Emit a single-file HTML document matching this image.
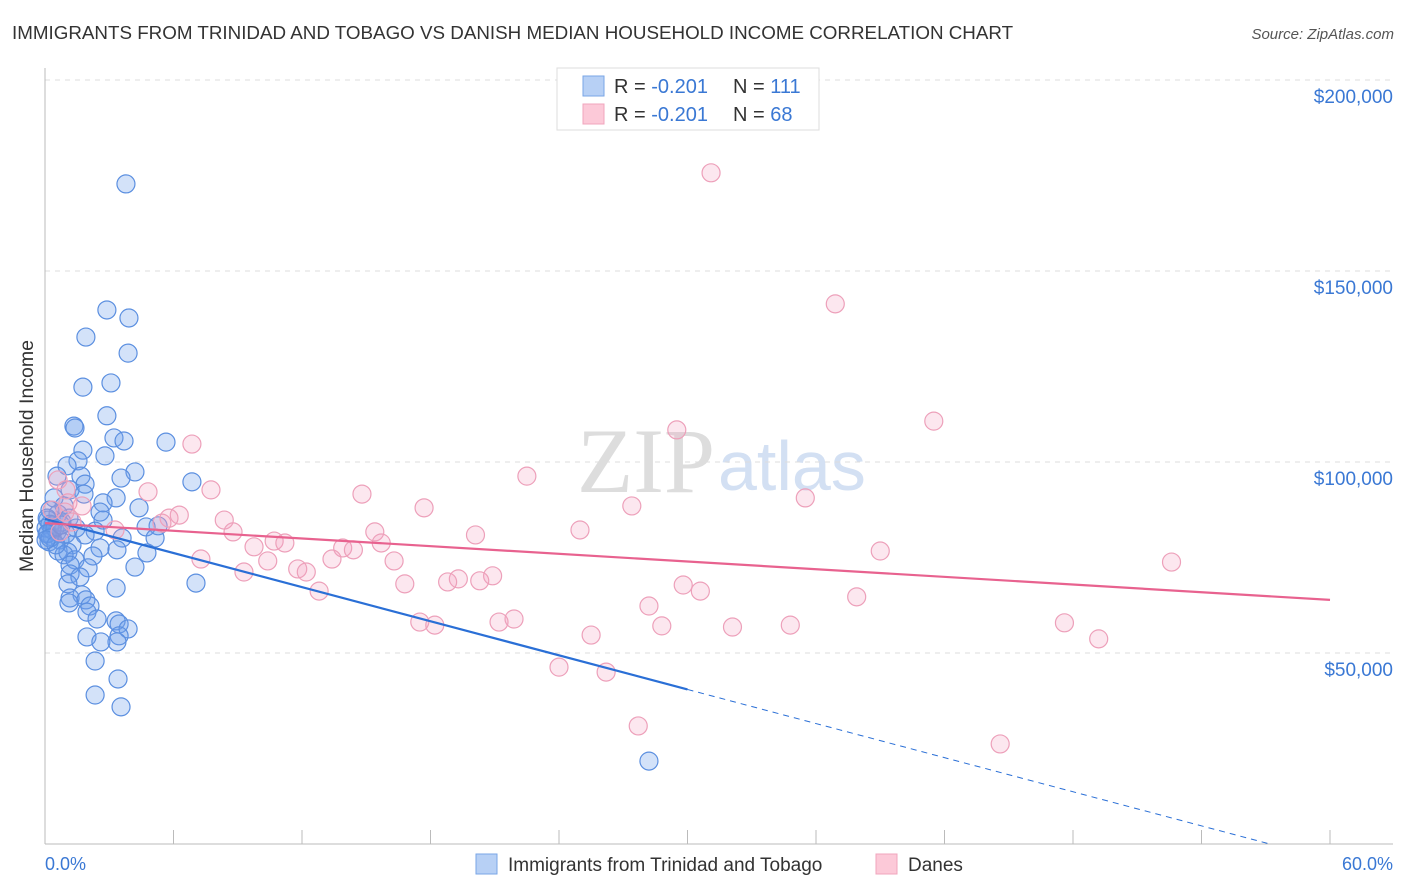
<!DOCTYPE html>
<html><head><meta charset="utf-8"><style>
body{margin:0;background:#fff;font-family:"Liberation Sans",sans-serif}
svg{display:block}
</style></head><body>
<svg id="c" width="1406" height="892">
<text x="12" y="39" font-size="18.8" fill="#333">IMMIGRANTS FROM TRINIDAD AND TOBAGO VS DANISH MEDIAN HOUSEHOLD INCOME CORRELATION CHART</text>
<text x="1394" y="39" font-size="15" fill="#555" font-style="italic" text-anchor="end">Source: ZipAtlas.com</text>
<text x="33" y="456" font-size="19.5" fill="#333" text-anchor="middle" transform="rotate(-90 33 456)">Median Household Income</text>
<text x="715" y="492" font-size="92" fill="#ddd" text-anchor="end" font-family="Liberation Serif,serif">ZIP</text>
<text x="718" y="490" font-size="70" fill="#d3e0f3">atlas</text>
<g id="grid"></g><g id="pts"></g><g id="trend"></g>
<g>
<rect x="557" y="68" width="262" height="62" fill="#fff" stroke="#ddd"/>
<rect x="583" y="76" width="21" height="20" fill="#b7d0f5" stroke="#7aa6e6"/>
<rect x="583" y="104" width="21" height="20" fill="#fcc9d8" stroke="#f0a5bd"/>
<text x="614" y="93" font-size="20" fill="#333">R = <tspan fill="#3a78d4">-0.201</tspan></text>
<text x="733" y="93" font-size="20" fill="#333">N = <tspan fill="#3a78d4">111</tspan></text>
<text x="614" y="121" font-size="20" fill="#333">R = <tspan fill="#3a78d4">-0.201</tspan></text>
<text x="733" y="121" font-size="20" fill="#333">N = <tspan fill="#3a78d4">68</tspan></text>
</g>
<g>
<rect x="476" y="854" width="21" height="20" fill="#b7d0f5" stroke="#7aa6e6"/>
<text x="508" y="871" font-size="19" fill="#333">Immigrants from Trinidad and Tobago</text>
<rect x="876" y="854" width="21" height="20" fill="#fcc9d8" stroke="#f0a5bd"/>
<text x="908" y="871" font-size="19" fill="#333">Danes</text>
</g>
<text x="45" y="870" font-size="18" fill="#3a78d4">0.0%</text>
<text x="1393" y="870" font-size="18" fill="#3a78d4" text-anchor="end">60.0%</text>
</svg>
<script>
const yTicks=[50,100,150,200];
const yTickLabels=["$50,000","$100,000","$150,000","$200,000"];
const blueX=[3.78,2.89,3.92,1.91,3.88,3.08,1.77,2.89,1.35,1.40,3.22,3.69,5.65,1.77,2.80,1.54,1.03,4.20,1.68,0.56,3.55,6.86,1.87,1.17,1.82,0.42,3.32,2.71,0.89,4.39,0.23,2.57,0.61,1.12,2.71,0.14,0.79,0.37,5.28,4.72,1.45,2.34,0.56,0.14,0.98,1.87,0.33,3.60,5.14,0.70,0.19,1.26,2.57,3.36,0.61,1.07,4.76,0.89,2.24,1.40,1.17,4.20,2.01,1.17,1.63,7.05,1.07,3.32,1.73,1.17,1.91,1.12,2.10,1.96,2.43,3.32,3.46,3.88,3.46,1.96,3.36,2.61,2.34,3.41,2.34,3.55,28.2,0.10,0.23,0.05,0.33,0.47,0.10,0.23,0.51,0.05,0.75];
const blueY=[172.8,139.8,137.7,132.7,128.5,120.7,119.6,112.1,109.4,108.9,106.3,105.5,105.2,103.1,101.6,100.3,99.0,97.4,96.3,96.3,95.8,94.8,94.2,92.7,91.6,90.6,90.6,89.3,88.5,88.0,87.4,86.9,86.4,85.3,84.8,84.8,84.3,83.5,83.3,83.0,82.7,81.9,81.7,81.4,81.2,80.9,80.4,80.1,80.1,79.6,79.1,78.3,77.5,77.0,76.7,76.4,76.2,75.7,75.4,74.4,73.0,72.5,72.3,70.7,69.9,68.3,68.1,67.0,65.2,64.4,63.9,63.1,62.3,60.7,58.9,58.4,57.6,56.3,54.5,54.2,52.9,52.9,47.9,43.2,39.0,35.9,21.7,85.3,83.7,82.7,82.2,82.7,81.2,80.1,78.3,79.6,83.5];
const pinkX=[31.1,36.9,41.5,29.5,6.86,22.5,4.81,7.75,14.8,35.5,17.7,27.4,6.27,5.79,8.37,5.46,24.98,8.78,15.4,20.1,3.27,10.7,11.2,15.7,13.9,9.76,14.4,39.0,7.28,10.4,16.3,13.4,52.6,9.29,11.8,12.2,20.9,19.3,18.8,20.3,16.8,29.8,30.6,12.8,37.9,28.2,21.9,21.2,17.5,18.2,28.8,32.1,34.8,47.6,25.5,49.2,24.0,26.2,27.7,44.6,0.61,0.98,1.07,0.33,0.93,1.73,0.70,1.26];
const pinkY=[175.7,141.4,110.7,108.4,104.7,96.3,92.2,92.7,91.6,90.6,88.0,88.5,86.1,85.3,84.8,84.0,82.2,81.7,81.7,80.9,82.2,79.3,78.8,78.8,77.5,77.8,77.0,76.7,74.6,74.1,74.1,74.6,73.8,71.2,72.0,71.2,70.2,69.4,68.6,68.9,68.1,67.8,66.2,66.2,64.7,62.3,58.9,58.1,58.1,57.3,57.1,56.8,57.3,57.9,54.7,53.7,46.3,45.0,30.9,26.2,95.3,92.7,89.3,87.4,86.9,88.5,81.7,84.3];
const blueTrend=[85.1,-1.488,30,57.2];
const pinkTrend=[84.0,-0.335,60];
const X=v=>45+v*1285/60, Y=v=>844-v*191/50;
const NS="http://www.w3.org/2000/svg";
function mk(t,a,p){const e=document.createElementNS(NS,t);for(const k in a)e.setAttribute(k,a[k]);p.appendChild(e);return e;}
const grid=document.getElementById('grid');
yTicks.forEach((t,i)=>{
 const l=mk('line',{x1:45,x2:1393,y1:Y(t),y2:Y(t),stroke:'#ddd','stroke-dasharray':'5,5'},grid);
 
 
 const tx=mk('text',{x:1393,y:Y(t)+23,'font-size':19,fill:'#3a78d4','text-anchor':'end'},grid);
 tx.textContent=yTickLabels[i];
 
 
});
const ax=mk('line',{x1:45,x2:45,y1:68,y2:844,stroke:'#bbb'},grid);


const bx=mk('line',{x1:45,x2:1393,y1:844,y2:844,stroke:'#bbb'},grid);


for(let i=1;i<=10;i++){const t=mk('line',{x1:X(i*6),x2:X(i*6),y1:830,y2:844,stroke:'#bbb'},grid);
 
 }
const pts=document.getElementById('pts');
blueX.forEach((x,i)=>{const c=mk('circle',{cx:X(x),cy:Y(blueY[i]),r:9,fill:'rgba(110,160,235,0.3)',stroke:'#5b8fe0','stroke-width':1.2},pts);
 
 });
pinkX.forEach((x,i)=>{const c=mk('circle',{cx:X(x),cy:Y(pinkY[i]),r:9,fill:'rgba(245,160,190,0.25)',stroke:'#eda0ba','stroke-width':1.2},pts);
 
 });
const tr=document.getElementById('trend');
const bf=x=>blueTrend[0]+blueTrend[1]*x, pf=x=>pinkTrend[0]+pinkTrend[1]*x;
const b1=mk('line',{x1:X(0),y1:Y(bf(0)),x2:X(blueTrend[2]),y2:Y(bf(blueTrend[2])),stroke:'#2a6fd6','stroke-width':2.2},tr);


const b2=mk('line',{x1:X(blueTrend[2]),y1:Y(bf(blueTrend[2])),x2:X(blueTrend[3]),y2:Y(bf(blueTrend[3])),stroke:'#2a6fd6','stroke-width':1,'stroke-dasharray':'6,5'},tr);


const p1=mk('line',{x1:X(0),y1:Y(pf(0)),x2:X(pinkTrend[2]),y2:Y(pf(pinkTrend[2])),stroke:'#e8628f','stroke-width':2.2},tr);


</script>
</body></html>
